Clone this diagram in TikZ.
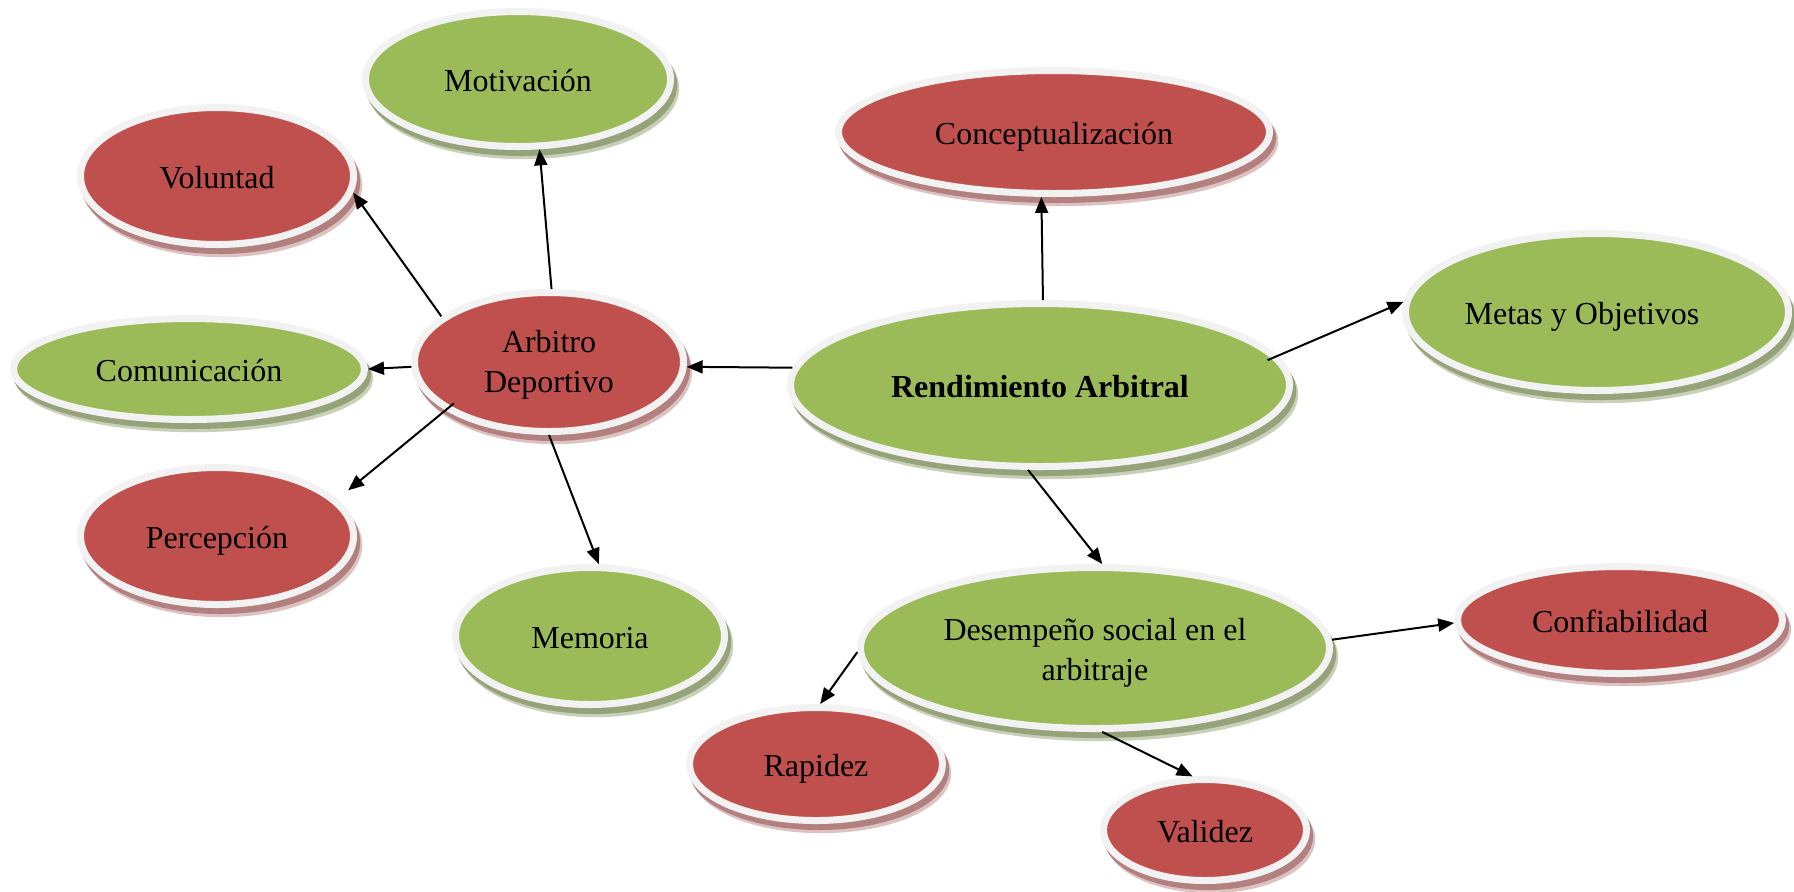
\documentclass[tikz,border=0pt]{standalone}
\usepackage{fontspec}
\setmainfont{Liberation Serif}
\usetikzlibrary{shapes.geometric,arrows.meta}

\definecolor{leaf}{HTML}{9BBB59}
\definecolor{brick}{HTML}{C0504D}
\definecolor{rim}{HTML}{F2F2F2}
\definecolor{leafshadeA}{RGB}{150,163,122}
\definecolor{leafshadeB}{RGB}{200,208,184}
\definecolor{brickshadeA}{RGB}{178,128,126}
\definecolor{brickshadeB}{RGB}{220,195,194}

\tikzset{
  bubble/.style={ellipse, draw=rim, line width=3.5pt, inner sep=0pt,
    align=center, text=black, font=\fontsize{16}{20}\selectfont},
  oneline/.style={text height=14.6pt, text depth=2pt},
  dims/.style 2 args={minimum width=#1pt, minimum height=#2pt},
  greenbubble/.style={bubble, fill=leaf,
    preaction={draw=leafshadeB, fill=leafshadeB, line width=3.5pt,
      transform canvas={xshift=2.6pt, yshift=-4.6pt}},
    preaction={draw=leafshadeA, fill=leafshadeA, line width=3.5pt,
      transform canvas={xshift=1.6pt, yshift=-3pt}}},
  redbubble/.style={bubble, fill=brick,
    preaction={draw=brickshadeB, fill=brickshadeB, line width=3.5pt,
      transform canvas={xshift=2.6pt, yshift=-4.6pt}},
    preaction={draw=brickshadeA, fill=brickshadeA, line width=3.5pt,
      transform canvas={xshift=1.6pt, yshift=-3pt}}},
  link/.style={line width=1pt, draw=black,
    -{Triangle[length=8pt, width=6.5pt]}},
}

\begin{document}
\begin{tikzpicture}[x=0.5pt, y=-0.5pt]
\useasboundingbox (0,0) rectangle (1794,891);

% left cluster
\node[greenbubble, oneline, dims={152.5}{67.5}] (mot) at (518,79)  {Motivación};
\node[redbubble,   oneline, dims={136.5}{68.5}] (vol) at (217,176) {Voluntad};
\node[redbubble,   dims={134.5}{69.5}] (arb) at (549,362) {\rule{0pt}{14pt}Arbitro\\Deportivo};
\node[greenbubble, oneline, dims={175.5}{50.5}] (com) at (189,369) {Comunicación};
\node[redbubble,   oneline, dims={136.5}{68.5}] (per) at (217,536) {Percepción};
\node[greenbubble, oneline, dims={134.5}{68.5}] (mem) at (590,636) {Memoria};

% right cluster
\node[redbubble,   oneline, dims={215.5}{61.5}] (con)  at (1054,132) {Conceptualización};
\node[greenbubble, oneline, dims={249.5}{81.5}] (ren)  at (1040,385) {\bfseries Rendimiento Arbitral};
\node[greenbubble, oneline, dims={191.5}{78.5}] (met)  at (1597,312) {Metas y Objetivos\rule{15pt}{0pt}};
\node[greenbubble, dims={234.5}{80.5}] (des)  at (1095,648) {\rule{0pt}{15.5pt}Desempeño social en el\\arbitraje};
\node[redbubble,   oneline, dims={162.5}{53.5}] (conf) at (1620,620) {Confiabilidad};
\node[redbubble,   oneline, dims={126.5}{56.5}] (rap)  at (816,764)  {Rapidez};
\node[redbubble,   oneline, dims={101.5}{50.5}] (val)  at (1205,830) {Validez};

% connectors
\draw[link] (ren.176.6) -- (arb.358.6);
\draw[link] (ren.88.6)  -- (con.259);
\draw[link, shorten <=-5.5pt] (ren.7.3) -- (met.177.6);
\draw[link] (ren.262.7) -- (des.85.2);
\draw[link] (des.2.7)   -- (conf.181.1);
\draw[link] (des.181)   -- (rap.86.6);
\draw[link] (des.275)   -- (val.103);
\draw[link] (arb.88.3)  -- (mot.287);
\draw[link] (arb.157.7) -- (vol.353.2);
\draw[link] (arb.182.1) -- (com.0.6);
\draw[link, shorten <=-5.5pt, shorten >=7pt] (arb.205.3) -- (per.17.3);
\draw[link] (arb.270.8) -- (mem.83.7);
\end{tikzpicture}
\end{document}
